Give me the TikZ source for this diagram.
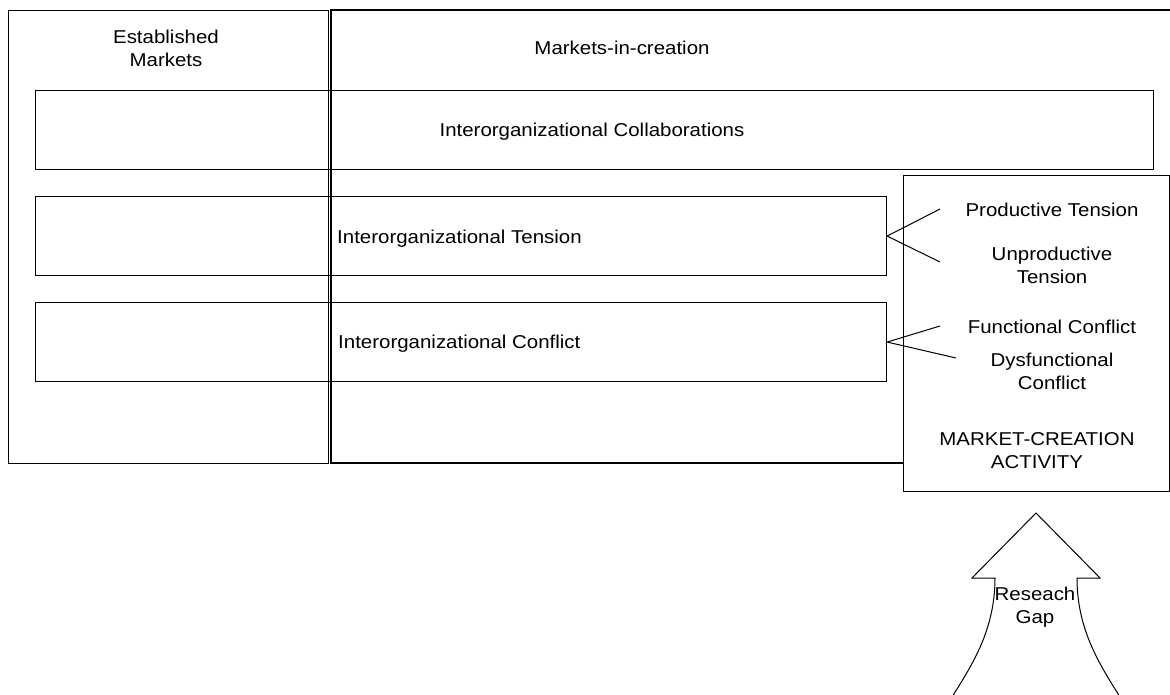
\documentclass[tikz,border=0pt]{standalone}
\usepackage{fontspec}
\setmainfont{Liberation Sans}[FakeStretch=1.1]
\begin{document}
\begin{tikzpicture}[x=1pt,y=-1pt,
  box/.style={draw, line width=1.1pt, inner sep=0pt, anchor=north west},
  lbl/.style={font=\fontsize{18.6}{23}\selectfont, align=center, inner sep=0pt, yshift=-2pt},
  conn/.style={line width=1pt}]
\useasboundingbox (0,0) rectangle (1170,695);
% columns
\node[box, minimum width=320pt, minimum height=453pt] (est) at (8,10) {};
\draw[line width=1.1pt] (1172,10) -| (331,463) -- (1166,463);
% rows
\node[box, minimum width=1118pt, minimum height=79pt] (collab) at (35,90) {};
\node[box, minimum width=851pt, minimum height=79pt] (tension) at (35,196) {};
\node[box, minimum width=851pt, minimum height=79pt] (conflict) at (35,302) {};
\node[box, fill=white, minimum width=266pt, minimum height=316pt] (mca) at (903,175) {};
% labels
\node[lbl] (estl) at (166,46) {Established\\Markets};
\node[lbl] (micl) at (622,46) {Markets-in-creation};
\node[lbl] (collabl) at (592,130) {Interorganizational Collaborations};
\node[lbl, anchor=west] (tensionl) at (337,237) {Interorganizational Tension};
\node[lbl, anchor=west] (conflictl) at (338,342) {Interorganizational Conflict};
\node[lbl] (prod) at (1052,208) {Productive Tension};
\node[lbl] (unprod) at (1052,263.5) {Unproductive\\Tension};
\node[lbl] (func) at (1052,325) {Functional Conflict};
\node[lbl] (dysf) at (1052,369) {Dysfunctional\\Conflict};
\node[lbl] (mcal) at (1037,449) {MARKET-CREATION\\ACTIVITY};
% connectors
\coordinate (t1) at (940,209);
\coordinate (t2) at (940,262);
\coordinate (c1) at (940,326);
\coordinate (c2) at (956,358);
\draw[conn] (t1) -- (tension.east) -- (t2);
\draw[conn] (c1) -- (conflict.east) -- (c2);
% arrow
\draw[conn] (952,697) .. controls (972,665) and (995,630) .. (995,578)
  -- (972,578) -- (1036,513) -- (1100,578) -- (1077,578)
  .. controls (1077,630) and (1100,665) .. (1120,697);
\node[lbl] (gap) at (1035,605.5) {Reseach\\Gap};
\end{tikzpicture}
\end{document}
